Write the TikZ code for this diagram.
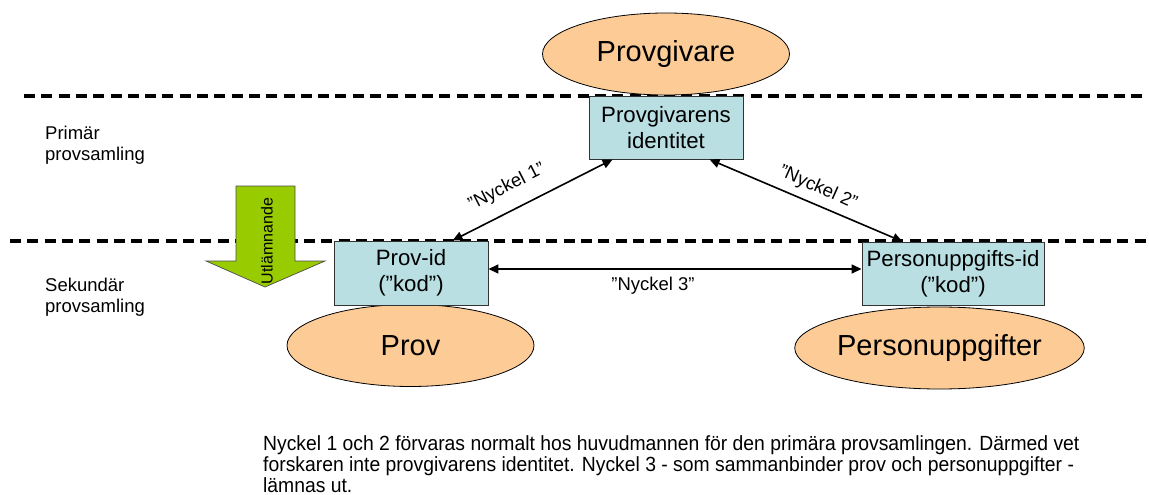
\documentclass[tikz,border=0pt]{standalone}
\usepackage{fontspec}
\usepackage{graphicx}
\setmainfont{Liberation Sans}
\usetikzlibrary{arrows.meta,calc,shapes.geometric}
\definecolor{peach}{RGB}{252,203,150}
\definecolor{lblue}{RGB}{185,223,227}
\definecolor{lgreen}{RGB}{153,204,0}
\tikzset{
  ell/.style={ellipse,draw=black,line width=0.8pt,fill=peach,minimum width=247pt,minimum height=82pt,inner sep=0pt,font=\fontsize{29}{34}\selectfont},
  idbox/.style={rectangle,draw=black!80,line width=0.9pt,fill=lblue,inner sep=0pt,align=center,font=\fontsize{22.2}{26}\selectfont},
  sepline/.style={line width=3.5pt,dash pattern=on 11pt off 6.3pt},
  keyarrow/.style={line width=1.6pt,{Triangle[length=10pt,width=9pt]}-{Triangle[length=10pt,width=9pt]}},
  keylbl/.style={font=\fontsize{18.5}{21}\selectfont,inner sep=0pt},
  sidelbl/.style={font=\fontsize{18.5}{21}\selectfont,inner sep=0pt,align=left,anchor=west},
}
\begin{document}
\begin{tikzpicture}[x=1pt,y=-1pt]
\useasboundingbox (0,0) rectangle (1149,495);
% separators
\coordinate (s1a) at (24,96); \coordinate (s1b) at (1147,96);
\coordinate (s2a) at (10,241); \coordinate (s2b) at (1147,241);
\draw[sepline] (s1a) -- (s1b);
\draw[sepline] (s2a) -- (s2b);
% ellipses
\node[ell] (giv) at (666,54) {Provgivare};
\node[ell] (prov) at (410.5,345.5) {Prov};
\node[ell] (pers) at (939.5,348) {Personuppgifter};
% boxes
\node[idbox,minimum width=154pt,minimum height=63pt] (ident) at (666,127.5) {Provgivarens\\identitet};
\node[idbox,minimum width=154pt,minimum height=64pt] (pid) at (411,273) {Prov-id\\(”kod”)};
\node[idbox,minimum width=182pt,minimum height=63pt] (pui) at (953,273.5) {Personuppgifts-id\\(”kod”)};
% green arrow
\draw[fill=lgreen,draw=black!70,line width=0.7pt] (236,186) -- (295,186) -- (295,261) -- (325,261) -- (265,287) -- (206,261) -- (236,261) -- cycle;
\node[rotate=90,font=\fontsize{16}{18}\selectfont,inner sep=0pt] (utl) at (267,241) {Utlämnande};
% key arrows
\draw[keyarrow] ($(pid.north west)+(119,0)$) -- ($(ident.south west)+(24,0)$);
\draw[keyarrow] ($(ident.south west)+(121,0)$) -- ($(pui.north west)+(41,0)$);
\draw[keyarrow] ($(pid.east)+(0,-4)$) -- ($(pui.west)+(0,-4.5)$);
\node[keylbl,rotate=27] (k1) at (507,187) {”Nyckel 1”};
\node[keylbl,rotate=-24] (k2) at (818,188) {”Nyckel 2”};
\node[keylbl] (k3) at (653,286) {”Nyckel 3”};
% side labels
\node[sidelbl] (prim) at (45,145) {Primär\\provsamling};
\node[sidelbl] (sek) at (45,297.5) {Sekundär\\provsamling};
% bottom text
\node[inner sep=0pt,anchor=base west] (note) at (263,450) {\fontsize{20.5}{20.5}\selectfont\scalebox{0.943}[1]{\begin{tabular}[t]{@{}l@{}}Nyckel 1 och 2 förvaras normalt hos huvudmannen för den primära provsamlingen. Därmed vet\\forskaren inte provgivarens identitet. Nyckel 3 - som sammanbinder prov och personuppgifter -\\lämnas ut.\end{tabular}}};
\end{tikzpicture}
\end{document}
